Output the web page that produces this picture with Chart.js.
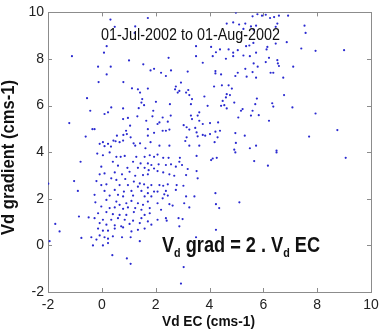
<!DOCTYPE html>
<html>
<head>
<meta charset="utf-8">
<script src="https://cdn.jsdelivr.net/npm/chart.js@4.4.1/dist/chart.umd.min.js"></script>
<style>
  html, body { margin: 0; padding: 0; background: #fff; }
  #wrap { width: 389px; height: 333px; }
</style>
</head>
<body>
<div id="wrap"><canvas id="c" width="389" height="333"></canvas></div>
<script>
// axes
const xTicks = [-2, 0, 2, 4, 6, 8, 10];
const yTicks = [-2, 0, 2, 4, 6, 8, 10];
const xTitle = "Vd EC (cms-1)";
const yTitle = "Vd gradient (cms-1)";
const periodLabel = "01-Jul-2002 to 01-Aug-2002";

// [Vd EC, Vd gradient], upper left part
const upperLeft = [
  [0.32,9.69],[1.71,9.76],[0.48,9.38],[1.24,9.40],[1.22,9.12],[-1.11,8.12],[0.08,8.27],[0.18,8.55],
  [1.01,7.94],[1.54,7.77],[-0.14,7.67],[0.33,7.67],[1.81,7.51],[1.94,7.58],[0.18,7.34],[-0.12,7.01],
  [0.80,7.01],[1.12,6.74],[1.34,6.70],[1.71,6.73],[1.42,6.56],[-0.55,6.32],[1.50,6.28],[1.47,6.13],
  [1.57,6.02],[0.35,5.92],[0.79,5.88],[-0.43,5.78],[0.23,5.71],[0.10,5.64],[1.91,5.78],[1.37,5.89],
  [1.32,5.54],[0.97,5.47],[0.79,5.42],[1.65,5.35],[1.88,5.54],[-1.21,5.25],[-0.35,4.99],[-0.27,4.99],
  [1.05,5.14],[0.90,4.92],[1.71,4.99],[-0.60,4.67],[0.56,4.71],[0.80,4.74],[0.93,4.78],[1.07,4.64],
  [0.43,4.50],[1.71,4.71],[0.79,4.50],[0.66,4.43],[-0.08,4.36],[0.04,4.43],[0.23,4.36],[0.10,4.26],
  [0.34,4.24],[0.51,4.47],[1.18,4.38],[1.24,4.28],[1.42,4.38],[1.62,4.17],[1.81,4.43],[1.94,4.83]
];

// upper middle
const upperMid = [
  [4.98,9.99],[5.60,9.83],[5.78,9.92],[5.95,9.86],[4.88,9.57],[4.64,9.52],[5.10,9.48],[5.33,9.52],
  [5.26,9.29],[5.54,9.40],[5.73,9.43],[5.64,9.26],[3.50,8.55],[4.06,8.52],[4.24,8.29],[4.39,8.41],
  [4.71,8.41],[4.88,8.27],[5.05,8.38],[5.36,8.55],[5.48,8.58],[5.63,8.69],[5.26,8.15],[5.50,8.12],
  [5.73,8.27],[2.48,8.05],[3.50,8.12],[4.12,8.12],[4.61,8.01],[4.88,8.12],[3.75,7.84],[5.64,7.81],
  [5.79,7.67],[2.20,7.41],[2.57,7.51],[2.38,7.27],[3.19,7.46],[4.22,7.48],[4.22,7.38],[5.05,7.41],
  [4.96,7.27],[5.33,7.58],[5.60,7.44],[5.38,7.24],[4.43,7.34],[5.73,7.20],[4.46,6.87],[4.17,6.82],
  [4.71,6.87],[4.83,6.73],[2.94,6.99],[2.75,6.82],[2.88,6.63],[2.72,6.70],[3.13,6.56],[3.21,6.67],
  [3.25,6.45],[3.35,6.28],[3.81,6.39],[3.31,6.06],[2.82,6.56],[4.64,6.49],[4.76,6.45],[4.61,6.35],
  [4.49,6.20],[4.92,6.13],[4.55,6.02],[4.64,5.88],[4.43,5.99],[2.01,6.16],[2.53,6.06],[2.26,5.49],
  [2.56,5.57],[2.14,5.28],[2.45,5.31],[5.70,6.06],[5.76,6.30],[5.23,5.85],[5.60,5.78],[5.54,5.57],
  [5.07,5.49],[5.17,5.78],[5.83,5.59],[3.93,5.99],[3.31,5.57],[3.35,5.42],[3.56,5.57],[3.62,5.35],
  [3.62,5.71],[4.02,5.25],[4.32,5.28],[3.75,5.21],[2.07,5.21],[2.26,4.92],[2.38,4.92],[2.51,4.97],
  [3.04,5.16],[3.15,5.07],[3.25,4.97],[3.47,5.04],[3.52,4.85],[4.02,4.78],[4.22,4.88],[4.39,4.92],
  [4.30,4.64],[3.75,4.74],[3.56,4.68],[3.84,4.71],[3.15,4.64],[3.10,4.48],[4.96,4.82],[5.31,4.71],
  [4.19,4.43],[4.98,4.40],[2.14,4.28],[2.51,4.28],[3.25,4.28],[3.62,4.28],[5.73,4.28],[5.50,4.17],
  [4.92,4.11]
];

// upper right
const upperRight = [
  [6.09,9.90],[6.25,9.76],[6.40,9.80],[6.58,9.86],[6.92,9.86],[6.52,9.52],[6.46,9.38],[7.53,9.43],
  [7.57,9.12],[6.87,8.72],[6.46,8.66],[6.15,8.52],[6.12,8.41],[7.41,8.45],[7.94,8.35],[9.00,8.38],
  [6.21,8.05],[6.52,7.95],[6.54,7.81],[6.09,7.87],[6.58,7.70],[7.11,7.67],[6.27,7.41],[6.37,7.41],
  [6.74,7.20],[6.77,6.45],[6.33,6.10],[6.37,5.96],[7.08,5.92],[7.94,5.66],[6.21,5.35],[8.75,4.95],
  [7.70,4.67],[6.49,4.07]
];

// lower left (main cluster)
const lowerLeft = [
  [-0.17,3.94],[0.04,3.87],[0.29,3.99],[0.54,3.80],[0.70,3.80],[0.85,3.84],[1.28,3.80],[1.59,3.80],
  [1.78,3.87],[1.94,3.80],[-0.79,3.59],[0.41,3.59],[1.16,3.59],[1.44,3.52],[1.71,3.52],[1.84,3.45],
  [-0.02,3.38],[0.60,3.42],[0.95,3.33],[1.34,3.33],[1.59,3.33],[1.74,3.23],[1.94,3.30],[-0.08,3.05],
  [0.10,3.09],[0.48,3.13],[0.75,3.05],[1.03,3.16],[1.24,2.99],[1.53,3.02],[1.71,3.05],[-1.03,2.76],
  [-0.20,2.76],[0.35,2.88],[0.54,2.81],[0.87,2.85],[1.19,2.74],[1.41,2.66],[1.57,2.62],[1.84,2.59],
  [-0.02,2.59],[0.17,2.62],[0.66,2.59],[0.97,2.59],[1.34,2.52],[1.71,2.48],[-0.89,2.34],[0.10,2.34],
  [0.48,2.38],[0.82,2.31],[1.10,2.34],[1.47,2.34],[1.71,2.24],[1.94,2.31],[-0.27,2.17],[0.29,2.14],
  [0.60,2.17],[0.79,2.10],[1.16,2.14],[1.59,2.10],[1.84,2.10],[-0.24,1.85],[0.17,1.95],[0.54,1.88],
  [0.66,1.74],[0.91,1.81],[1.10,1.91],[1.34,1.81],[1.53,1.74],[1.71,1.88],[-0.02,1.67],[0.29,1.60],
  [0.48,1.63],[0.79,1.57],[0.97,1.63],[1.24,1.60],[1.47,1.53],[1.78,1.60],[-0.14,1.38],[0.17,1.43],
  [0.41,1.34],[0.66,1.31],[0.91,1.31],[1.19,1.43],[1.59,1.31],[1.78,1.38],[-0.85,1.24],[-0.49,1.20],
  [-0.27,1.17],[0.04,1.10],[0.35,1.10],[0.60,1.17],[0.85,1.10],[1.16,1.06],[1.47,1.17],[1.71,1.03],
  [-1.73,0.92],[-0.08,0.96],[0.17,0.89],[0.48,0.86],[0.72,0.82],[1.03,0.92],[1.41,0.96],[1.84,0.89],
  [-1.57,0.60],[-0.14,0.72],[0.04,0.63],[0.23,0.63],[0.48,0.72],[0.79,0.77],[1.10,0.60],[1.34,0.67],
  [1.59,0.72],[-0.76,0.32],[-0.39,0.35],[-0.20,0.25],[-0.08,0.43],[0.10,0.35],[0.23,0.29],[0.41,0.39],
  [0.75,0.35],[1.07,0.35],[1.41,0.18],[-1.94,0.18],[-0.33,0.00],[0.04,0.00],[0.23,0.10],[0.39,-0.42],
  [0.93,-0.56],[1.07,-0.79],[-1.99,2.65]
];

// lower middle and right
const lowerRight = [
  [2.07,3.90],[2.28,3.76],[2.48,3.76],[2.90,3.76],[2.88,3.59],[3.52,3.84],[4.06,3.66],[4.12,3.73],
  [4.27,3.76],[4.96,3.99],[5.66,3.62],[2.11,3.48],[2.38,3.45],[2.57,3.48],[2.75,3.38],[2.98,3.45],
  [3.19,3.28],[3.52,3.19],[2.07,3.19],[2.28,3.13],[2.51,3.05],[2.69,2.99],[3.13,3.02],[3.56,2.88],
  [2.14,2.59],[2.28,2.56],[2.45,2.62],[2.78,2.59],[3.03,2.56],[2.38,2.34],[2.07,2.31],[2.75,2.38],
  [2.32,2.19],[2.45,2.14],[2.26,2.02],[3.13,2.10],[3.44,2.10],[4.22,2.24],[5.11,1.85],[2.07,1.81],
  [2.51,1.77],[2.63,1.71],[3.06,1.81],[3.25,1.63],[4.24,1.77],[4.36,1.60],[2.20,1.53],[2.07,1.10],
  [2.38,1.17],[2.41,1.06],[2.85,1.17],[3.00,1.13],[2.88,0.82],[4.24,0.67],[3.50,0.35],[3.04,-0.93],
  [2.94,-1.64],[6.49,3.99],[6.17,3.42],[9.06,3.76]
];

const points = [...upperLeft, ...upperMid, ...upperRight, ...lowerLeft, ...lowerRight];

const FONT = '"Liberation Sans", Arial, sans-serif';
const AXIS_GREY = '#8c8c8c';

// draws text squeezed/stretched horizontally to a given width
function fitText(ctx, text, x, y, width) {
  const w = ctx.measureText(text).width;
  ctx.save();
  ctx.translate(x, y);
  ctx.scale(width / w, 1);
  ctx.fillText(text, 0, 0);
  ctx.restore();
}

const frame = {
  id: 'frame',
  beforeDatasetsDraw(chart) {
    const { ctx, chartArea: a, scales: { x, y } } = chart;
    ctx.save();
    ctx.strokeStyle = AXIS_GREY;
    ctx.lineWidth = 1;
    ctx.strokeRect(Math.round(a.left) + 0.5, Math.round(a.top) + 0.5,
                   Math.round(a.right - a.left), Math.round(a.bottom - a.top));
    ctx.beginPath();
    xTicks.forEach(v => {
      const px = Math.round(x.getPixelForValue(v)) + 0.5;
      ctx.moveTo(px, a.bottom); ctx.lineTo(px, a.bottom - 4);
      ctx.moveTo(px, a.top); ctx.lineTo(px, a.top + 4);
    });
    yTicks.forEach(v => {
      const py = Math.round(y.getPixelForValue(v)) + 0.5;
      ctx.moveTo(a.left, py); ctx.lineTo(a.left + 4, py);
      ctx.moveTo(a.right, py); ctx.lineTo(a.right - 4, py);
    });
    ctx.stroke();
    ctx.restore();
  },
  afterDraw(chart) {
    const { ctx } = chart;
    ctx.save();
    ctx.fillStyle = '#111';
    ctx.textBaseline = 'alphabetic';
    ctx.textAlign = 'left';

    // period label inside the plot
    ctx.font = '16px ' + FONT;
    fitText(ctx, periodLabel, 101, 40, 179);

    // x title
    ctx.font = 'bold 15px ' + FONT;
    fitText(ctx, xTitle, 162, 326, 93);

    // y title, its top is cut off by the left edge
    ctx.save();
    ctx.translate(14, 235);
    ctx.rotate(-Math.PI / 2);
    ctx.font = 'bold 19px ' + FONT;
    fitText(ctx, yTitle, 0, 0, 155);
    ctx.restore();

    // annotation  V_d grad = 2 . V_d EC
    const parts = [
      ['V', 'bold 22px ', 0], ['d', 'bold 13px ', 5], [' grad = 2 . V', 'bold 22px ', 0],
      ['d', 'bold 13px ', 5], [' EC', 'bold 22px ', 0]
    ];
    let total = 0;
    parts.forEach(p => { ctx.font = p[1] + FONT; total += ctx.measureText(p[0]).width; });
    const k = 158 / total;
    ctx.save();
    ctx.translate(162, 252);
    ctx.scale(k, 1);
    let cx = 0;
    parts.forEach(p => {
      ctx.font = p[1] + FONT;
      ctx.fillText(p[0], cx, p[2]);
      cx += ctx.measureText(p[0]).width;
    });
    ctx.restore();
    ctx.restore();
  }
};

new Chart(document.getElementById('c'), {
  type: 'scatter',
  data: {
    datasets: [{
      data: points.map(p => ({ x: p[0], y: p[1] })),
      pointRadius: 1.1,
      pointBorderWidth: 0,
      pointBackgroundColor: '#2a2ad0',
      pointHoverRadius: 1.1
    }]
  },
  options: {
    responsive: false,
    animation: false,
    devicePixelRatio: 1,
    layout: { padding: { top: 11, right: 18, left: 0, bottom: 0 } },
    plugins: { legend: { display: false }, tooltip: { enabled: false } },
    events: [],
    scales: {
      x: {
        type: 'linear', min: -2, max: 10,
        afterBuildTicks: s => { s.ticks = xTicks.map(v => ({ value: v })); },
        afterFit: s => { s.height = 41; },
        grid: { display: false, drawTicks: false },
        border: { display: false },
        ticks: { padding: 5, color: '#222', font: { family: FONT, size: 14 }, maxRotation: 0 }
      },
      y: {
        type: 'linear', min: -2, max: 10,
        afterBuildTicks: s => { s.ticks = yTicks.map(v => ({ value: v })); },
        afterFit: s => { s.width = 48; },
        grid: { display: false, drawTicks: false },
        border: { display: false },
        ticks: { padding: 4, color: '#222', font: { family: FONT, size: 14 } }
      }
    }
  },
  plugins: [frame]
});
</script>
</body>
</html>
